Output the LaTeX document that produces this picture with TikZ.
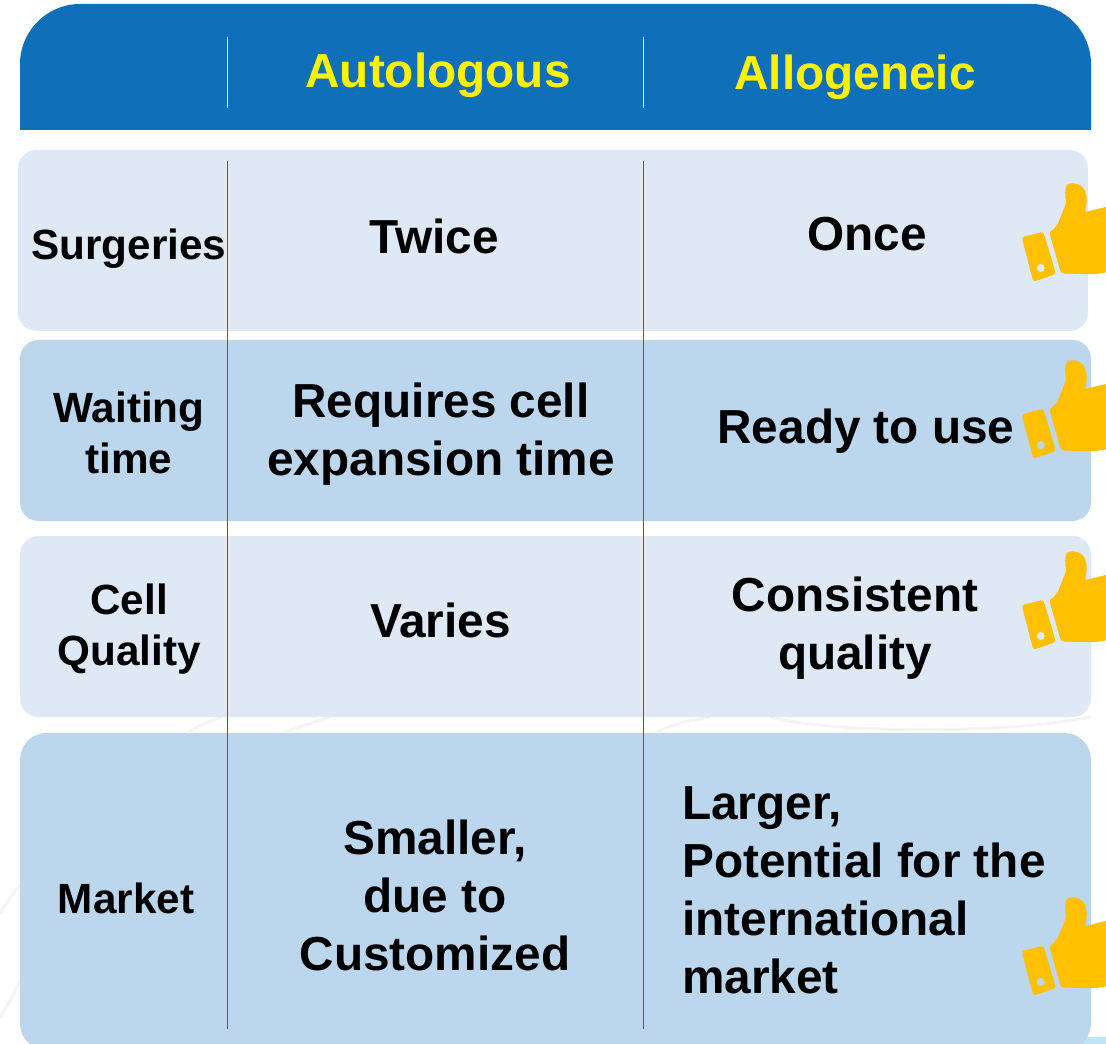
\documentclass[tikz,border=0pt]{standalone}
\usepackage{fontspec}
\setmainfont{Liberation Sans}
\definecolor{hdr}{HTML}{0F6FB9}
\definecolor{rowa}{HTML}{DEE9F5}
\definecolor{rowb}{HTML}{BCD6EE}
\definecolor{rule}{HTML}{156DB8}
\definecolor{thumb}{HTML}{FFC000}
\definecolor{faint}{HTML}{F4F4F4}
\definecolor{cornerblue}{HTML}{BFE3F7}
\newcommand{\bigtxt}{\fontsize{35.8pt}{43.5pt}\bfseries\selectfont}
\newcommand{\lefttxt}{\fontsize{31.7pt}{38.5pt}\bfseries\selectfont}
\tikzset{
  x=0.75pt,y=-0.75pt,
  panel/.style={draw=none,rounded corners=14pt},
  bigpanel/.style={draw=none,rounded corners=20pt},
  colrule/.style={draw=rule,line width=0.8pt},
  hdrrule/.style={draw=white,line width=0.8pt},
  bgcurve/.style={draw=faint,line width=2.2pt},
  hdrtxt/.style={font=\bigtxt,text=yellow,inner sep=0pt,anchor=base},
  cell/.style={font=\bigtxt,align=center,inner sep=0pt,text=black},
  leftcell/.style={font=\lefttxt,align=center,inner sep=0pt,text=black},
  thumbup/.pic={
    \fill[thumb,rounded corners=2pt]
      (41.7,87.3)--(63.3,81.7)--(76,124)--(53.3,131.7)--cycle;
    \fill[thumb]
      (70,82) .. controls (72,80) and (76,78) .. (78.5,72)
      -- (86,53.5) .. controls (85.5,48) and (85,44) .. (85.3,40)
      .. controls (85.5,35) and (88,33.2) .. (93,33.2)
      .. controls (100,33.2) and (105.5,38) .. (106.5,47)
      .. controls (107,53) and (106,58) .. (105.3,62)
      -- (130,56) -- (130,121.5)
      .. controls (120,124) and (112,124.5) .. (102,124)
      -- (84,123.5) .. controls (81.5,123.5) and (80.5,122) .. (80,120)
      -- (70,85) .. controls (69.6,84) and (69.6,83) .. (70,82) -- cycle;
  },
}
\begin{document}
\begin{tikzpicture}
\useasboundingbox (0,0) rectangle (1106,1044);
\clip (0,0) rectangle (1106,1044);
\fill[white] (0,0) rectangle (1106,1044);
% faint background curves
\draw[bgcurve] (0,913) .. controls (8,900) and (14,893) .. (20,885);
\draw[bgcurve] (0,1017) .. controls (8,1005) and (14,993) .. (20,980);
\draw[bgcurve] (187,733) .. controls (200,725) and (212,720) .. (222,717);
\draw[bgcurve] (283,733) .. controls (298,727) and (315,722) .. (330,717);
\draw[bgcurve] (655,733) .. controls (670,725) and (690,720) .. (710,717);
\draw[bgcurve] (770,717) .. controls (830,733) and (1000,735) .. (1091,717);
% bottom right light corner
\fill[cornerblue] (1070,1037) rectangle (1106,1044);
% header
\path[fill=hdr,draw=none] (20,130) -- (20,64) .. controls (20,31) and (47,4) .. (80,4)
  -- (1031,4) .. controls (1064,4) and (1091,31) .. (1091,64) -- (1091,130) -- cycle;
% rows
\path[panel,fill=rowa] (18,150) rectangle (1088,331);
\path[panel,fill=rowb] (20,340) rectangle (1091,521);
\path[panel,fill=rowa] (20,536) rectangle (1091,717);
\path[bigpanel,fill=rowb] (20,733) rectangle (1091,1050);
% rules
\coordinate (h1a) at (227.5,37); \coordinate (h1b) at (227.5,108);
\coordinate (h2a) at (643.5,37); \coordinate (h2b) at (643.5,108);
\coordinate (c1a) at (227.5,161); \coordinate (c1b) at (227.5,1029);
\coordinate (c2a) at (643.5,161); \coordinate (c2b) at (643.5,1029);
\draw[hdrrule] (h1a) -- (h1b);
\draw[hdrrule] (h2a) -- (h2b);
\draw[colrule] (c1a) -- (c1b);
\draw[colrule] (c2a) -- (c2b);
% header text
\node[hdrtxt] (auto) at (438,88) {Autologous};
\node[hdrtxt] (allo) at (855,90) {Allogeneic};
% row labels
\node[leftcell] (surg) at (129,249) {Surgeries};
\node[leftcell] (wait) at (129,433) {Waiting\\time};
\node[leftcell] (qual) at (129,629) {Cell\\Quality};
\node[leftcell] (mark) at (126,898) {Market};
% autologous
\node[cell] (twice) at (434,236) {Twice};
\node[cell] (req) at (441,434) {Requires cell\\expansion time};
\node[cell] (vari) at (440.5,620) {Varies};
\node[cell] (small) at (435,895) {Smaller,\\due to\\Customized};
% allogeneic
\node[cell] (once) at (867,234) {Once};
\node[cell] (ready) at (866,431) {Ready to use};
\node[cell] (cons) at (855,628) {Consistent\\quality};
\node[cell,align=left,anchor=west] (large) at (682,890) {Larger,\\Potential for the\\international\\market};
% thumbs
\pic at (980,150) {thumbup};
\pic at (980,327) {thumbup};
\pic at (980,518) {thumbup};
\pic at (980,864) {thumbup};
% cuff holes
\fill[rowa] (1040.7,268) circle (4);
\fill[rowb] (1040.7,445) circle (4);
\fill[rowa] (1040.7,636) circle (4);
\fill[rowb] (1040.7,982) circle (4);
\end{tikzpicture}
\end{document}
